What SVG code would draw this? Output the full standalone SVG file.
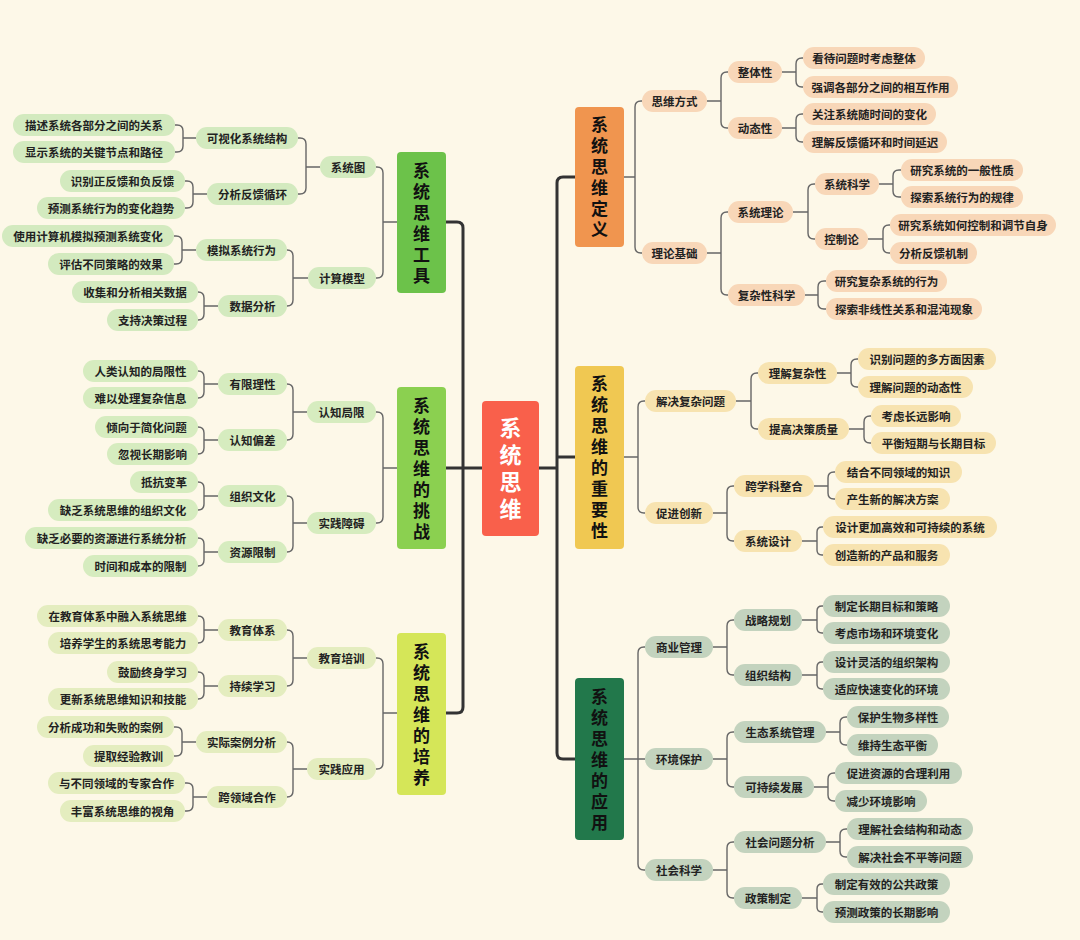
<svg xmlns="http://www.w3.org/2000/svg" width="1080" height="940" viewBox="0 0 1080 940">
<style>
text{font-family:"Noto Sans CJK SC","Noto Sans",sans-serif;font-weight:bold;dominant-baseline:central;text-anchor:middle;}
.p{font-size:11.5px;fill:#222;}
.m{font-size:17px;fill:#111;writing-mode:vertical-rl;letter-spacing:4px;}
.c{font-size:22px;fill:#fff;writing-mode:vertical-rl;letter-spacing:5px;}
.t{fill:none;stroke:#333;stroke-width:3;stroke-linejoin:round;}
.l{fill:none;stroke:#666;stroke-width:1.4;}
.pd{fill:#F8D7B8;}
.pi{fill:#F7E3B0;}
.pa{fill:#C3D3BE;}
.pt{fill:#D3EABF;}
.pc{fill:#D6ECBF;}
.pg{fill:#E4EDBF;}
</style>
<rect width="1080" height="940" fill="#FDF8E8"/>
<g id="connectors">
<path class="t" d="M446,222H457Q463,222 463,228V707Q463,713 457,713H446M446,468H482"/>
<path class="t" d="M575,177H563Q557,177 557,183V753Q557,759 563,759H575M539,468H557M557,457H575"/>
<path class="l" d="M624,177H635M642,101H641Q635,101 635,107V247Q635,253 641,253H642"/>
<path class="l" d="M707,101H721M728,72H727Q721,72 721,78V122Q721,128 727,128H728"/>
<path class="l" d="M782,72H796M803,58H802Q796,58 796,64V81Q796,87 802,87H803"/>
<path class="l" d="M782,128H796M803,114H802Q796,114 796,120V136Q796,142 802,142H803"/>
<path class="l" d="M707,253H721M728,212H727Q721,212 721,218V289Q721,295 727,295H728"/>
<path class="l" d="M793,212H808M815,184H814Q808,184 808,190V233Q808,239 814,239H815"/>
<path class="l" d="M879,184H893M901,170H899Q893,170 893,176V191Q893,197 899,197H901"/>
<path class="l" d="M868,239H883M890,225H889Q883,225 883,231V247Q883,253 889,253H890"/>
<path class="l" d="M805,295H818M826,281H824Q818,281 818,287V303Q818,309 824,309H826"/>
<path class="l" d="M624,457H638M645,401H644Q638,401 638,407V507Q638,513 644,513H645"/>
<path class="l" d="M736,401H751M758,373H757Q751,373 751,379V423Q751,429 757,429H758"/>
<path class="l" d="M837,373H851M858,359H857Q851,359 851,365V381Q851,387 857,387H858"/>
<path class="l" d="M849,429H864M871,416H870Q864,416 864,422V437Q864,443 870,443H871"/>
<path class="l" d="M713,513H727M734,486H733Q727,486 727,492V535Q727,541 733,541H734"/>
<path class="l" d="M814,486H828M835,472H834Q828,472 828,478V493Q828,499 834,499H835"/>
<path class="l" d="M802,541H817M823,527H822Q817,527 817,532V550Q817,555 822,555H823"/>
<path class="l" d="M624,759H645M645,647H644Q638,647 638,653V864Q638,870 644,870H645"/>
<path class="l" d="M713,647H727M734,620H733Q727,620 727,626V669Q727,675 733,675H734"/>
<path class="l" d="M802,620H817M823,606H822Q817,606 817,611V628Q817,633 822,633H823"/>
<path class="l" d="M802,675H817M823,662H822Q817,662 817,667V684Q817,689 822,689H823"/>
<path class="l" d="M713,759H727M734,732H733Q727,732 727,738V781Q727,787 733,787H734"/>
<path class="l" d="M826,732H840M847,717H846Q840,717 840,723V739Q840,745 846,745H847"/>
<path class="l" d="M814,787H828M835,773H834Q828,773 828,779V795Q828,801 834,801H835"/>
<path class="l" d="M713,870H727M734,842H733Q727,842 727,848V892Q727,898 733,898H734"/>
<path class="l" d="M826,842H840M847,829H846Q840,829 840,835V851Q840,857 846,857H847"/>
<path class="l" d="M802,898H817M823,884H822Q817,884 817,889V907Q817,912 822,912H823"/>
<path class="l" d="M397,222H383M376,167H377Q383,167 383,173V272Q383,278 377,278H376"/>
<path class="l" d="M320,167H306M298,138H300Q306,138 306,144V188Q306,194 300,194H298"/>
<path class="l" d="M196,138H183M175,125H177Q183,125 183,131V146Q183,152 177,152H175"/>
<path class="l" d="M207,194H193M185,181H187Q193,181 193,187V202Q193,208 187,208H185"/>
<path class="l" d="M308,278H293M287,250Q293,250 293,256V300Q293,306 287,306"/>
<path class="l" d="M196,250H182M174,236H176Q182,236 182,242V258Q182,264 176,264H174"/>
<path class="l" d="M218,306H204M198,292Q204,292 204,298V314Q204,320 198,320"/>
<path class="l" d="M397,468H383M376,412H377Q383,412 383,418V517Q383,523 377,523H376"/>
<path class="l" d="M307,412H293M287,384Q293,384 293,390V434Q293,440 287,440"/>
<path class="l" d="M218,384H204M198,371Q204,371 204,377V392Q204,398 198,398"/>
<path class="l" d="M218,440H204M198,427Q204,427 204,433V448Q204,454 198,454"/>
<path class="l" d="M307,523H293M287,496Q293,496 293,502V546Q293,552 287,552"/>
<path class="l" d="M218,496H204M198,482Q204,482 204,488V504Q204,510 198,510"/>
<path class="l" d="M218,552H204M198,538Q204,538 204,544V560Q204,566 198,566"/>
<path class="l" d="M397,713H383M376,658H377Q383,658 383,664V763Q383,769 377,769H376"/>
<path class="l" d="M307,658H293M287,630Q293,630 293,636V680Q293,686 287,686"/>
<path class="l" d="M218,630H204M198,616Q204,616 204,622V637Q204,643 198,643"/>
<path class="l" d="M218,686H204M198,672Q204,672 204,678V693Q204,699 198,699"/>
<path class="l" d="M307,769H293M287,742Q293,742 293,748V791Q293,797 287,797"/>
<path class="l" d="M196,742H182M174,727H176Q182,727 182,733V750Q182,756 176,756H174"/>
<path class="l" d="M207,797H193M185,783H187Q193,783 193,789V805Q193,811 187,811H185"/>
</g>

<g id="center"><rect x="482" y="401" width="57" height="135" rx="4" fill="#F9604B"/><text class="c" x="510.5" y="471">系统思维</text></g>

<g id="n-tool"><rect x="397" y="152" width="49" height="141" rx="4" fill="#6CC24A"/><text class="m" x="421.5" y="225">系统思维工具</text></g>
<g id="n-challenge"><rect x="397" y="387" width="49" height="162" rx="4" fill="#8BD050"/><text class="m" x="421.5" y="471">系统思维的挑战</text></g>
<g id="n-cultivate"><rect x="397" y="633" width="49" height="162" rx="4" fill="#D5E658"/><text class="m" x="421.5" y="717">系统思维的培养</text></g>
<g id="n-define"><rect x="575" y="107" width="49" height="140" rx="4" fill="#F0954F"/><text class="m" x="599.5" y="179.5">系统思维定义</text></g>
<g id="n-importance"><rect x="575" y="366" width="49" height="183" rx="4" fill="#F0C852"/><text class="m" x="599.5" y="459.5">系统思维的重要性</text></g>
<g id="n-apply"><rect x="575" y="678" width="49" height="162" rx="4" fill="#22784B"/><text class="m" x="599.5" y="762">系统思维的应用</text></g>

<g id="d1"><rect class="pd" x="642" y="90" width="65" height="22" rx="11"/><text class="p" x="674.5" y="101">思维方式</text></g>
<g id="d2"><rect class="pd" x="642" y="242" width="65" height="22" rx="11"/><text class="p" x="674.5" y="253">理论基础</text></g>
<g id="d11"><rect class="pd" x="728" y="61" width="54" height="22" rx="11"/><text class="p" x="755" y="72">整体性</text></g>
<g id="d12"><rect class="pd" x="728" y="117" width="54" height="22" rx="11"/><text class="p" x="755" y="128">动态性</text></g>
<g id="d21"><rect class="pd" x="728" y="201" width="65" height="22" rx="11"/><text class="p" x="760.5" y="212">系统理论</text></g>
<g id="d22"><rect class="pd" x="728" y="284" width="77" height="22" rx="11"/><text class="p" x="766.5" y="295">复杂性科学</text></g>
<g id="d111"><rect class="pd" x="803" y="47" width="122" height="22" rx="11"/><text class="p" x="864" y="58">看待问题时考虑整体</text></g>
<g id="d112"><rect class="pd" x="803" y="76" width="155" height="22" rx="11"/><text class="p" x="880.5" y="87">强调各部分之间的相互作用</text></g>
<g id="d121"><rect class="pd" x="803" y="103" width="133" height="22" rx="11"/><text class="p" x="869.5" y="114">关注系统随时间的变化</text></g>
<g id="d122"><rect class="pd" x="803" y="131" width="144" height="22" rx="11"/><text class="p" x="875" y="142">理解反馈循环和时间延迟</text></g>
<g id="d211"><rect class="pd" x="815" y="173" width="64" height="22" rx="11"/><text class="p" x="847" y="184">系统科学</text></g>
<g id="d212"><rect class="pd" x="815" y="228" width="53" height="22" rx="11"/><text class="p" x="841.5" y="239">控制论</text></g>
<g id="d2111"><rect class="pd" x="901" y="159" width="122" height="22" rx="11"/><text class="p" x="962" y="170">研究系统的一般性质</text></g>
<g id="d2112"><rect class="pd" x="901" y="186" width="122" height="22" rx="11"/><text class="p" x="962" y="197">探索系统行为的规律</text></g>
<g id="d2121"><rect class="pd" x="890" y="214" width="166" height="22" rx="11"/><text class="p" x="973" y="225">研究系统如何控制和调节自身</text></g>
<g id="d2122"><rect class="pd" x="890" y="242" width="87" height="22" rx="11"/><text class="p" x="933.5" y="253">分析反馈机制</text></g>
<g id="d221"><rect class="pd" x="826" y="270" width="121" height="22" rx="11"/><text class="p" x="886.5" y="281">研究复杂系统的行为</text></g>
<g id="d222"><rect class="pd" x="826" y="298" width="156" height="22" rx="11"/><text class="p" x="904" y="309">探索非线性关系和混沌现象</text></g>

<g id="i1"><rect class="pi" x="645" y="390" width="91" height="22" rx="11"/><text class="p" x="690.5" y="401">解决复杂问题</text></g>
<g id="i2"><rect class="pi" x="645" y="502" width="68" height="22" rx="11"/><text class="p" x="679" y="513">促进创新</text></g>
<g id="i11"><rect class="pi" x="758" y="362" width="79" height="22" rx="11"/><text class="p" x="797.5" y="373">理解复杂性</text></g>
<g id="i12"><rect class="pi" x="758" y="418" width="91" height="22" rx="11"/><text class="p" x="803.5" y="429">提高决策质量</text></g>
<g id="i111"><rect class="pi" x="858" y="348" width="138" height="22" rx="11"/><text class="p" x="927" y="359">识别问题的多方面因素</text></g>
<g id="i112"><rect class="pi" x="858" y="376" width="115" height="22" rx="11"/><text class="p" x="915.5" y="387">理解问题的动态性</text></g>
<g id="i121"><rect class="pi" x="871" y="405" width="90" height="22" rx="11"/><text class="p" x="916" y="416">考虑长远影响</text></g>
<g id="i122"><rect class="pi" x="871" y="432" width="125" height="22" rx="11"/><text class="p" x="933.5" y="443">平衡短期与长期目标</text></g>
<g id="i21"><rect class="pi" x="734" y="475" width="80" height="22" rx="11"/><text class="p" x="774" y="486">跨学科整合</text></g>
<g id="i22"><rect class="pi" x="734" y="530" width="68" height="22" rx="11"/><text class="p" x="768" y="541">系统设计</text></g>
<g id="i211"><rect class="pi" x="835" y="461" width="127" height="22" rx="11"/><text class="p" x="898.5" y="472">结合不同领域的知识</text></g>
<g id="i212"><rect class="pi" x="835" y="488" width="115" height="22" rx="11"/><text class="p" x="892.5" y="499">产生新的解决方案</text></g>
<g id="i221"><rect class="pi" x="823" y="516" width="174" height="22" rx="11"/><text class="p" x="910" y="527">设计更加高效和可持续的系统</text></g>
<g id="i222"><rect class="pi" x="823" y="544" width="127" height="22" rx="11"/><text class="p" x="886.5" y="555">创造新的产品和服务</text></g>

<g id="a1"><rect class="pa" x="645" y="636" width="68" height="22" rx="11"/><text class="p" x="679" y="647">商业管理</text></g>
<g id="a2"><rect class="pa" x="645" y="748" width="68" height="22" rx="11"/><text class="p" x="679" y="759">环境保护</text></g>
<g id="a3"><rect class="pa" x="645" y="859" width="68" height="22" rx="11"/><text class="p" x="679" y="870">社会科学</text></g>
<g id="a11"><rect class="pa" x="734" y="609" width="68" height="22" rx="11"/><text class="p" x="768" y="620">战略规划</text></g>
<g id="a12"><rect class="pa" x="734" y="664" width="68" height="22" rx="11"/><text class="p" x="768" y="675">组织结构</text></g>
<g id="a111"><rect class="pa" x="823" y="595" width="127" height="22" rx="11"/><text class="p" x="886.5" y="606">制定长期目标和策略</text></g>
<g id="a112"><rect class="pa" x="823" y="622" width="127" height="22" rx="11"/><text class="p" x="886.5" y="633">考虑市场和环境变化</text></g>
<g id="a121"><rect class="pa" x="823" y="651" width="127" height="22" rx="11"/><text class="p" x="886.5" y="662">设计灵活的组织架构</text></g>
<g id="a122"><rect class="pa" x="823" y="678" width="127" height="22" rx="11"/><text class="p" x="886.5" y="689">适应快速变化的环境</text></g>
<g id="a21"><rect class="pa" x="734" y="721" width="92" height="22" rx="11"/><text class="p" x="780" y="732">生态系统管理</text></g>
<g id="a22"><rect class="pa" x="734" y="776" width="80" height="22" rx="11"/><text class="p" x="774" y="787">可持续发展</text></g>
<g id="a211"><rect class="pa" x="847" y="706" width="102" height="22" rx="11"/><text class="p" x="898" y="717">保护生物多样性</text></g>
<g id="a212"><rect class="pa" x="847" y="734" width="91" height="22" rx="11"/><text class="p" x="892.5" y="745">维持生态平衡</text></g>
<g id="a221"><rect class="pa" x="835" y="762" width="127" height="22" rx="11"/><text class="p" x="898.5" y="773">促进资源的合理利用</text></g>
<g id="a222"><rect class="pa" x="835" y="790" width="92" height="22" rx="11"/><text class="p" x="881" y="801">减少环境影响</text></g>
<g id="a31"><rect class="pa" x="734" y="831" width="92" height="22" rx="11"/><text class="p" x="780" y="842">社会问题分析</text></g>
<g id="a32"><rect class="pa" x="734" y="887" width="68" height="22" rx="11"/><text class="p" x="768" y="898">政策制定</text></g>
<g id="a311"><rect class="pa" x="847" y="818" width="126" height="22" rx="11"/><text class="p" x="910" y="829">理解社会结构和动态</text></g>
<g id="a312"><rect class="pa" x="847" y="846" width="126" height="22" rx="11"/><text class="p" x="910" y="857">解决社会不平等问题</text></g>
<g id="a321"><rect class="pa" x="823" y="873" width="127" height="22" rx="11"/><text class="p" x="886.5" y="884">制定有效的公共政策</text></g>
<g id="a322"><rect class="pa" x="823" y="901" width="127" height="22" rx="11"/><text class="p" x="886.5" y="912">预测政策的长期影响</text></g>

<g id="t1"><rect class="pt" x="320" y="156" width="56" height="22" rx="11"/><text class="p" x="348" y="167">系统图</text></g>
<g id="t2"><rect class="pt" x="308" y="267" width="68" height="22" rx="11"/><text class="p" x="342" y="278">计算模型</text></g>
<g id="t11"><rect class="pt" x="196" y="127" width="102" height="22" rx="11"/><text class="p" x="247" y="138">可视化系统结构</text></g>
<g id="t12"><rect class="pt" x="207" y="183" width="91" height="22" rx="11"/><text class="p" x="252.5" y="194">分析反馈循环</text></g>
<g id="t111"><rect class="pt" x="13" y="114" width="162" height="22" rx="11"/><text class="p" x="94" y="125">描述系统各部分之间的关系</text></g>
<g id="t112"><rect class="pt" x="13" y="141" width="162" height="22" rx="11"/><text class="p" x="94" y="152">显示系统的关键节点和路径</text></g>
<g id="t121"><rect class="pt" x="60" y="170" width="125" height="22" rx="11"/><text class="p" x="122.5" y="181">识别正反馈和负反馈</text></g>
<g id="t122"><rect class="pt" x="37" y="197" width="148" height="22" rx="11"/><text class="p" x="111" y="208">预测系统行为的变化趋势</text></g>
<g id="t21"><rect class="pt" x="196" y="239" width="91" height="22" rx="11"/><text class="p" x="241.5" y="250">模拟系统行为</text></g>
<g id="t22"><rect class="pt" x="218" y="295" width="69" height="22" rx="11"/><text class="p" x="252.5" y="306">数据分析</text></g>
<g id="t211"><rect class="pt" x="2" y="225" width="172" height="22" rx="11"/><text class="p" x="88" y="236">使用计算机模拟预测系统变化</text></g>
<g id="t212"><rect class="pt" x="48" y="253" width="126" height="22" rx="11"/><text class="p" x="111" y="264">评估不同策略的效果</text></g>
<g id="t221"><rect class="pt" x="72" y="281" width="126" height="22" rx="11"/><text class="p" x="135" y="292">收集和分析相关数据</text></g>
<g id="t222"><rect class="pt" x="107" y="309" width="91" height="22" rx="11"/><text class="p" x="152.5" y="320">支持决策过程</text></g>

<g id="c1"><rect class="pc" x="307" y="401" width="69" height="22" rx="11"/><text class="p" x="341.5" y="412">认知局限</text></g>
<g id="c2"><rect class="pc" x="307" y="512" width="69" height="22" rx="11"/><text class="p" x="341.5" y="523">实践障碍</text></g>
<g id="c11"><rect class="pc" x="218" y="373" width="69" height="22" rx="11"/><text class="p" x="252.5" y="384">有限理性</text></g>
<g id="c12"><rect class="pc" x="218" y="429" width="69" height="22" rx="11"/><text class="p" x="252.5" y="440">认知偏差</text></g>
<g id="c111"><rect class="pc" x="83" y="360" width="115" height="22" rx="11"/><text class="p" x="140.5" y="371">人类认知的局限性</text></g>
<g id="c112"><rect class="pc" x="83" y="387" width="115" height="22" rx="11"/><text class="p" x="140.5" y="398">难以处理复杂信息</text></g>
<g id="c121"><rect class="pc" x="95" y="416" width="103" height="22" rx="11"/><text class="p" x="146.5" y="427">倾向于简化问题</text></g>
<g id="c122"><rect class="pc" x="107" y="443" width="91" height="22" rx="11"/><text class="p" x="152.5" y="454">忽视长期影响</text></g>
<g id="c21"><rect class="pc" x="218" y="485" width="69" height="22" rx="11"/><text class="p" x="252.5" y="496">组织文化</text></g>
<g id="c22"><rect class="pc" x="218" y="541" width="69" height="22" rx="11"/><text class="p" x="252.5" y="552">资源限制</text></g>
<g id="c211"><rect class="pc" x="130" y="471" width="68" height="22" rx="11"/><text class="p" x="164" y="482">抵抗变革</text></g>
<g id="c212"><rect class="pc" x="48" y="499" width="150" height="22" rx="11"/><text class="p" x="123" y="510">缺乏系统思维的组织文化</text></g>
<g id="c221"><rect class="pc" x="25" y="527" width="173" height="22" rx="11"/><text class="p" x="111.5" y="538">缺乏必要的资源进行系统分析</text></g>
<g id="c222"><rect class="pc" x="83" y="555" width="115" height="22" rx="11"/><text class="p" x="140.5" y="566">时间和成本的限制</text></g>

<g id="g1"><rect class="pg" x="307" y="647" width="69" height="22" rx="11"/><text class="p" x="341.5" y="658">教育培训</text></g>
<g id="g2"><rect class="pg" x="307" y="758" width="69" height="22" rx="11"/><text class="p" x="341.5" y="769">实践应用</text></g>
<g id="g11"><rect class="pg" x="218" y="619" width="69" height="22" rx="11"/><text class="p" x="252.5" y="630">教育体系</text></g>
<g id="g12"><rect class="pg" x="218" y="675" width="69" height="22" rx="11"/><text class="p" x="252.5" y="686">持续学习</text></g>
<g id="g111"><rect class="pg" x="37" y="605" width="161" height="22" rx="11"/><text class="p" x="117.5" y="616">在教育体系中融入系统思维</text></g>
<g id="g112"><rect class="pg" x="48" y="632" width="150" height="22" rx="11"/><text class="p" x="123" y="643">培养学生的系统思考能力</text></g>
<g id="g121"><rect class="pg" x="107" y="661" width="91" height="22" rx="11"/><text class="p" x="152.5" y="672">鼓励终身学习</text></g>
<g id="g122"><rect class="pg" x="48" y="688" width="150" height="22" rx="11"/><text class="p" x="123" y="699">更新系统思维知识和技能</text></g>
<g id="g21"><rect class="pg" x="196" y="731" width="91" height="22" rx="11"/><text class="p" x="241.5" y="742">实际案例分析</text></g>
<g id="g22"><rect class="pg" x="207" y="786" width="80" height="22" rx="11"/><text class="p" x="247" y="797">跨领域合作</text></g>
<g id="g211"><rect class="pg" x="37" y="716" width="137" height="22" rx="11"/><text class="p" x="105.5" y="727">分析成功和失败的案例</text></g>
<g id="g212"><rect class="pg" x="83" y="745" width="91" height="22" rx="11"/><text class="p" x="128.5" y="756">提取经验教训</text></g>
<g id="g221"><rect class="pg" x="48" y="772" width="137" height="22" rx="11"/><text class="p" x="116.5" y="783">与不同领域的专家合作</text></g>
<g id="g222"><rect class="pg" x="60" y="800" width="125" height="22" rx="11"/><text class="p" x="122.5" y="811">丰富系统思维的视角</text></g>
</svg>
